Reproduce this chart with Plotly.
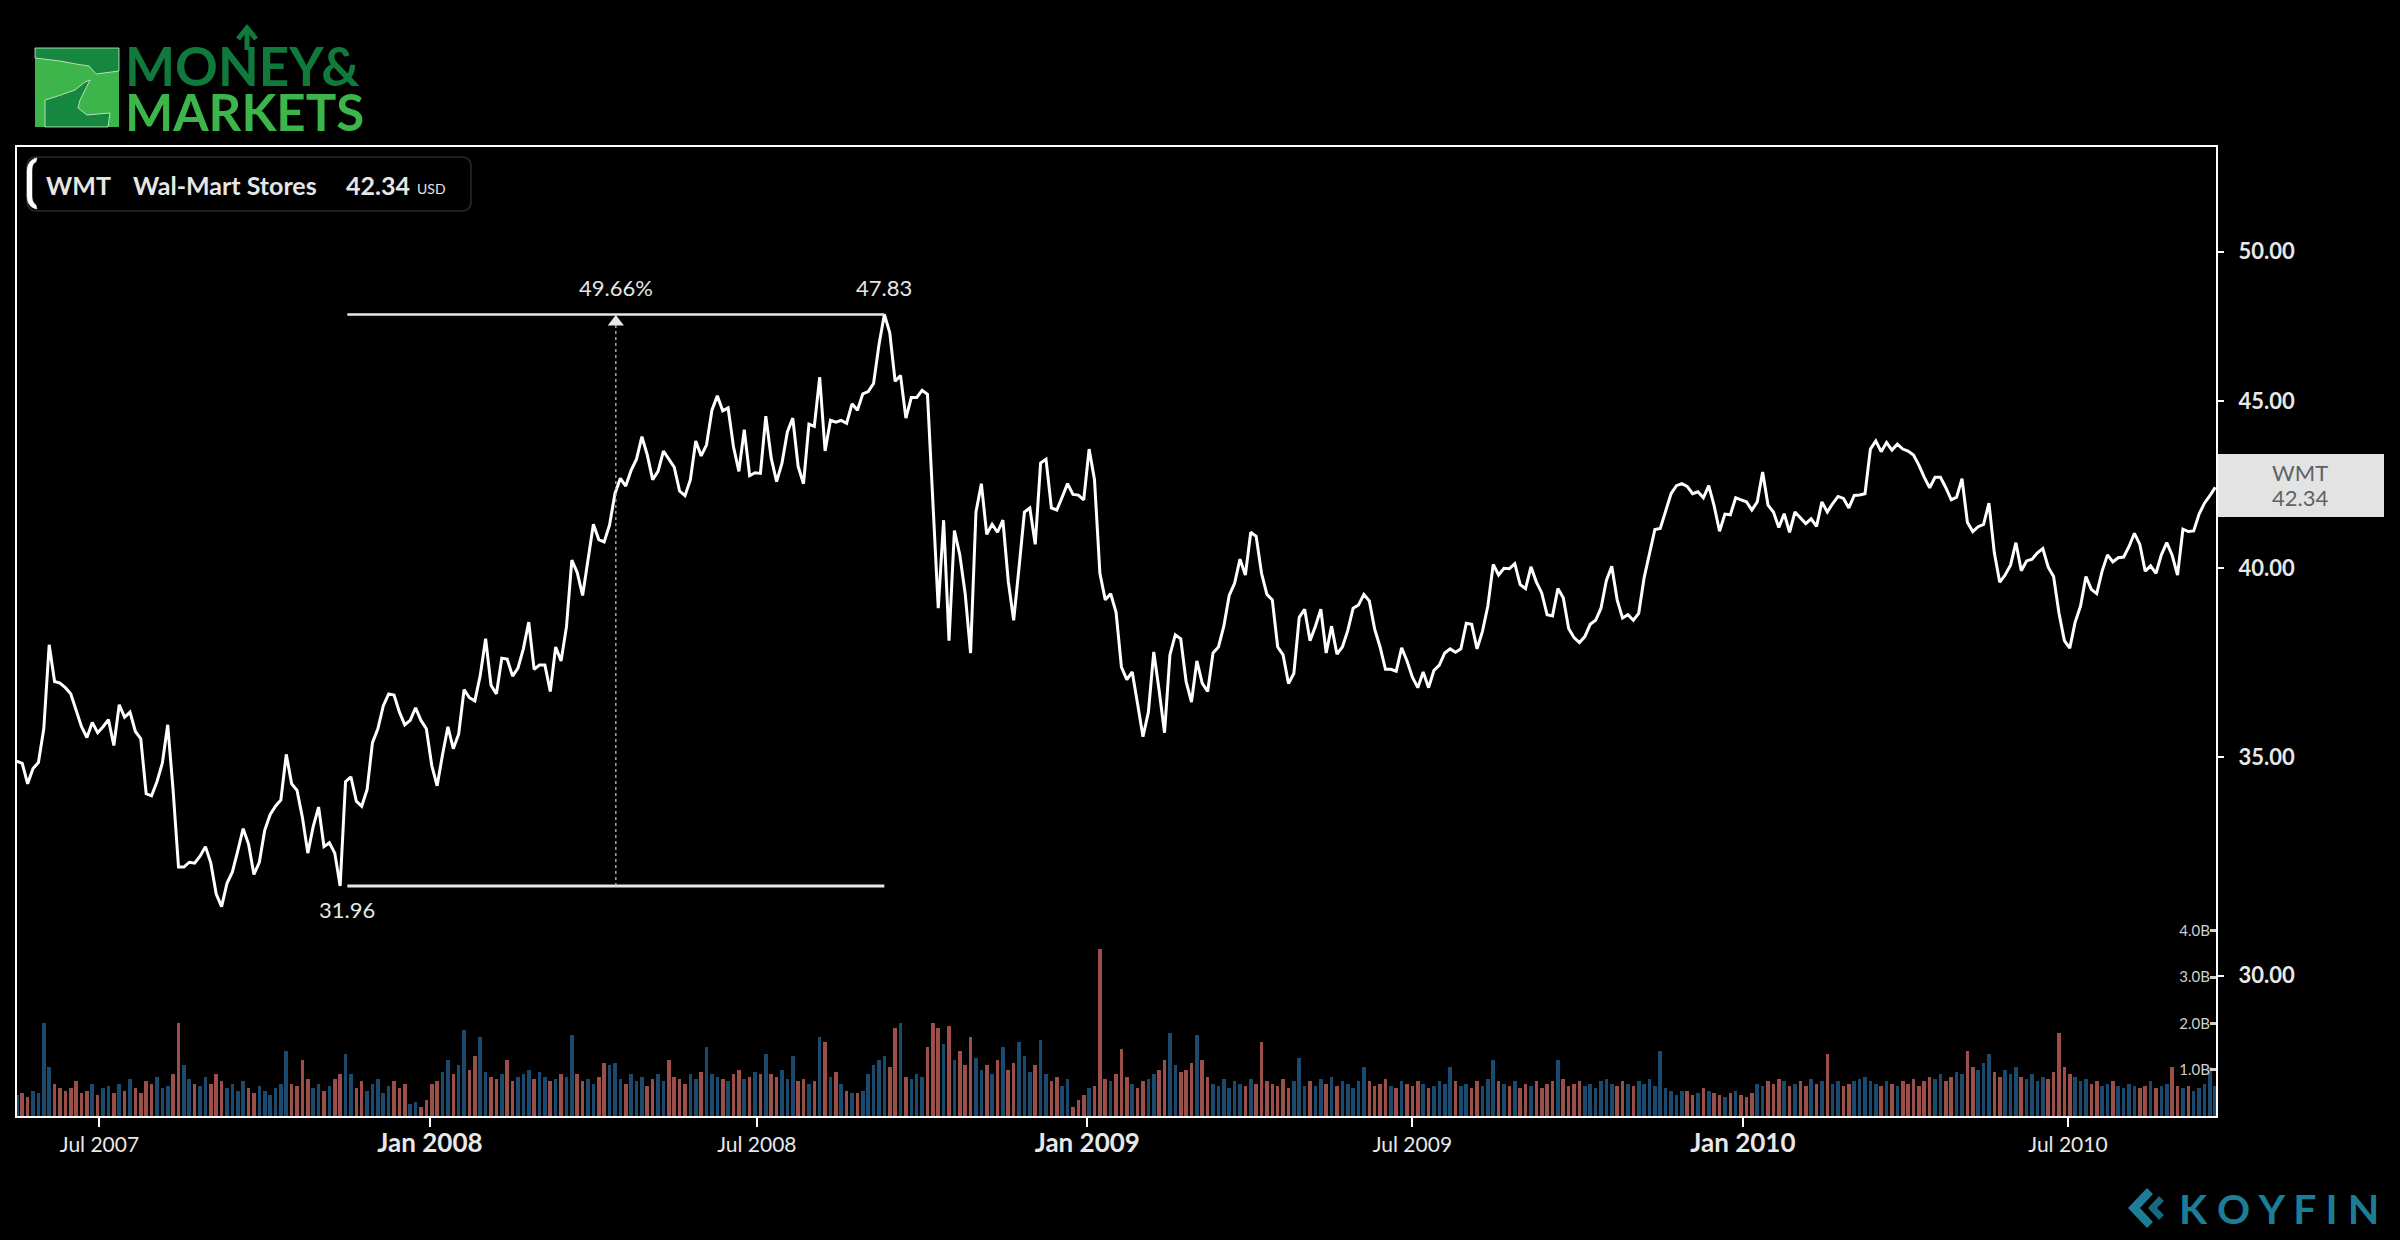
import numpy as np
import pandas as pd
import plotly.graph_objects as go

# ---------------- data ----------------
START_DATE = "2007-05-16"
STEP_DAYS = 3

price = [
    34.90, 34.85, 34.35, 34.72, 34.87, 35.71, 37.89, 36.92, 36.88, 36.76,
    36.60, 36.18, 35.76, 35.49, 35.87, 35.61, 35.76, 35.94, 35.29, 36.32,
    36.00, 36.13, 35.64, 35.46, 34.11, 34.06, 34.40, 34.85, 35.81, 34.19,
    32.39, 32.39, 32.50, 32.48, 32.64, 32.86, 32.48, 31.78, 31.50, 32.02,
    32.28, 32.76, 33.28, 32.92, 32.22, 32.50, 33.24, 33.61, 33.81, 33.96,
    35.07, 34.35, 34.19, 33.54, 32.71, 33.33, 33.79, 32.86, 32.95, 32.71,
    31.96, 34.40, 34.52, 33.93, 33.81, 34.21, 35.36, 35.71, 36.29, 36.60,
    36.57, 36.13, 35.81, 35.92, 36.24, 35.92, 35.71, 34.80, 34.30, 35.06,
    35.76, 35.21, 35.58, 36.71, 36.50, 36.42, 37.08, 38.05, 36.82, 36.60,
    37.53, 37.51, 37.06, 37.27, 37.78, 38.50, 37.24, 37.35, 37.35, 36.66,
    37.83, 37.46, 38.37, 40.22, 39.87, 39.23, 40.20, 41.25, 40.81, 40.74,
    41.23, 42.15, 42.61, 42.38, 42.85, 43.19, 43.88, 43.32, 42.57, 42.82,
    43.44, 43.19, 42.95, 42.23, 42.09, 42.57, 43.75, 43.29, 43.63, 44.71,
    45.17, 44.69, 44.78, 43.57, 42.82, 44.10, 42.69, 42.78, 42.76, 44.52,
    43.22, 42.51, 43.07, 44.03, 44.46, 42.97, 42.45, 44.27, 44.20, 45.76,
    43.44, 44.39, 44.33, 44.39, 44.30, 44.91, 44.71, 45.23, 45.30, 45.56,
    46.82, 47.83, 47.23, 45.63, 45.82, 44.46, 45.11, 45.11, 45.34, 45.21,
    41.73, 38.88, 41.37, 38.00, 41.07, 40.37, 39.28, 37.67, 41.61, 42.45,
    40.96, 41.25, 41.02, 41.37, 39.62, 38.55, 40.02, 41.61, 41.73, 40.67,
    43.07, 43.19, 41.73, 41.67, 42.05, 42.45, 42.13, 42.11, 41.97, 43.50,
    42.57, 39.85, 39.11, 39.28, 38.77, 37.30, 36.97, 37.17, 36.34, 35.51,
    36.13, 37.70, 36.68, 35.61, 37.62, 38.16, 38.05, 36.92, 36.39, 37.46,
    36.87, 36.66, 37.67, 37.83, 38.39, 39.23, 39.57, 40.25, 39.80, 41.02,
    40.90, 39.85, 39.26, 39.11, 37.83, 37.62, 36.87, 37.13, 38.63, 38.85,
    38.00, 38.39, 38.85, 37.67, 38.39, 37.64, 37.83, 38.27, 38.88, 38.97,
    39.26, 39.08, 38.31, 37.83, 37.24, 37.24, 37.19, 37.81, 37.46, 37.03,
    36.76, 37.17, 36.76, 37.21, 37.35, 37.67, 37.78, 37.69, 37.78, 38.47,
    38.44, 37.78, 38.25, 38.94, 40.10, 39.80, 39.99, 39.98, 40.12, 39.53,
    39.42, 40.03, 39.61, 39.30, 38.70, 38.67, 39.42, 39.17, 38.33, 38.08,
    37.95, 38.11, 38.44, 38.55, 38.88, 39.65, 40.05, 39.11, 38.61, 38.70,
    38.55, 38.74, 39.72, 40.41, 41.10, 41.13, 41.63, 42.15, 42.39, 42.45,
    42.37, 42.15, 42.21, 42.03, 42.39, 41.79, 41.05, 41.55, 41.53, 42.03,
    41.97, 41.91, 41.67, 41.91, 42.80, 41.81, 41.61, 41.16, 41.56, 41.02,
    41.61, 41.43, 41.27, 41.41, 41.19, 41.91, 41.61, 41.86, 42.07, 42.01,
    41.73, 42.10, 42.11, 42.15, 43.50, 43.75, 43.42, 43.70, 43.47, 43.65,
    43.50, 43.44, 43.32, 43.01, 42.64, 42.33, 42.64, 42.64, 42.33, 41.97,
    42.05, 42.60, 41.31, 41.04, 41.18, 41.25, 41.87, 40.43, 39.60, 39.80,
    40.08, 40.72, 39.92, 40.20, 40.25, 40.43, 40.55, 40.02, 39.76, 38.74,
    38.00, 37.80, 38.50, 38.94, 39.76, 39.40, 39.28, 39.91, 40.37, 40.17,
    40.29, 40.31, 40.61, 40.99, 40.67, 39.91, 40.06, 39.85, 40.37, 40.72,
    40.36, 39.80, 41.11, 41.04, 41.06, 41.55, 41.87, 42.09, 42.34,
]

volume_b = [
    0.45, 0.50, 0.40, 0.55, 0.50, 2.00, 1.05, 0.70, 0.60, 0.55,
    0.60, 0.75, 0.50, 0.55, 0.70, 0.45, 0.60, 0.65, 0.50, 0.70,
    0.55, 0.80, 0.60, 0.50, 0.75, 0.70, 0.85, 0.60, 0.65, 0.90,
    2.00, 1.10, 0.80, 0.70, 0.65, 0.85, 0.70, 0.90, 0.75, 0.60,
    0.70, 0.55, 0.75, 0.60, 0.50, 0.65, 0.55, 0.45, 0.60, 0.70,
    1.40, 0.70, 0.65, 1.20, 0.80, 0.60, 0.70, 0.55, 0.65, 0.80,
    0.90, 1.35, 0.90, 0.60, 0.75, 0.55, 0.70, 0.80, 0.50, 0.65,
    0.75, 0.60, 0.70, 0.25, 0.30, 0.20, 0.35, 0.70, 0.75, 0.95,
    1.20, 0.90, 1.10, 1.85, 1.00, 1.30, 1.70, 0.95, 0.85, 0.80,
    0.90, 1.20, 0.75, 0.85, 0.90, 1.00, 0.80, 0.95, 0.85, 0.75,
    0.80, 0.90, 0.85, 1.75, 0.90, 0.75, 0.80, 0.70, 0.85, 1.15,
    1.10, 1.15, 0.80, 0.70, 0.90, 0.75, 0.85, 0.65, 0.80, 0.90,
    0.75, 1.20, 0.85, 0.80, 0.70, 0.90, 0.80, 0.95, 1.50, 0.90,
    0.85, 0.80, 0.75, 0.90, 1.00, 0.80, 0.85, 0.95, 0.90, 1.35,
    0.90, 0.85, 1.00, 0.80, 1.30, 0.75, 0.80, 0.70, 0.75, 1.70,
    1.60, 0.85, 0.95, 0.70, 0.55, 0.50, 0.50, 0.55, 0.90, 1.10,
    1.20, 1.30, 1.05, 1.90, 2.00, 0.85, 0.80, 0.90, 0.85, 1.50,
    2.00, 1.90, 1.55, 1.95, 1.20, 1.40, 1.10, 1.70, 1.25, 1.00,
    1.10, 0.90, 1.20, 1.50, 1.00, 1.15, 1.60, 1.30, 0.95, 1.10,
    1.65, 0.90, 0.75, 0.85, 0.65, 0.80, 0.20, 0.35, 0.45, 0.60,
    0.65, 3.60, 0.80, 0.75, 0.90, 1.45, 0.85, 0.70, 0.60, 0.75,
    0.80, 0.90, 1.00, 1.20, 1.80, 1.10, 0.95, 1.00, 1.15, 1.75,
    1.20, 0.85, 0.70, 0.65, 0.80, 0.60, 0.75, 0.70, 0.65, 0.80,
    0.70, 1.60, 0.75, 0.70, 0.65, 0.80, 0.60, 0.75, 1.25, 0.65,
    0.75, 0.65, 0.80, 0.70, 0.85, 0.65, 0.75, 0.70, 0.60, 0.75,
    1.05, 0.75, 0.65, 0.70, 0.80, 0.65, 0.60, 0.75, 0.70, 0.65,
    0.75, 0.70, 0.60, 0.65, 0.75, 0.70, 1.05, 0.75, 0.65, 0.70,
    0.60, 0.75, 0.65, 0.80, 1.20, 0.75, 0.70, 0.65, 0.75, 0.60,
    0.70, 0.65, 0.75, 0.60, 0.70, 0.75, 1.20, 0.80, 0.65, 0.70,
    0.75, 0.65, 0.70, 0.60, 0.75, 0.80, 0.70, 0.65, 0.75, 0.70,
    0.65, 0.75, 0.70, 0.80, 0.65, 1.40, 0.60, 0.55, 0.45, 0.55,
    0.55, 0.45, 0.50, 0.60, 0.55, 0.50, 0.45, 0.40, 0.50, 0.55,
    0.45, 0.40, 0.50, 0.70, 0.65, 0.75, 0.70, 0.80, 0.75, 0.65,
    0.70, 0.75, 0.65, 0.80, 0.70, 0.75, 1.35, 0.70, 0.75, 0.65,
    0.70, 0.75, 0.80, 0.85, 0.75, 0.70, 0.65, 0.75, 0.70, 0.65,
    0.75, 0.70, 0.80, 0.65, 0.75, 0.85, 0.80, 0.90, 0.75, 0.85,
    0.95, 0.90, 1.40, 1.05, 1.00, 1.15, 1.35, 0.95, 0.85, 1.00,
    0.90, 1.05, 0.85, 0.80, 0.90, 0.75, 0.85, 0.80, 0.95, 1.80,
    1.05, 0.90, 0.85, 0.75, 0.80, 0.70, 0.75, 0.65, 0.70, 0.75,
    0.65, 0.60, 0.70, 0.65, 0.60, 0.65, 0.75, 0.60, 0.65, 0.70,
    1.05, 0.65, 0.60, 0.65, 0.55, 0.60, 0.70, 1.05, 0.65,
]

tick_dates = ["2007-07-01", "2008-01-01", "2008-07-01", "2009-01-01",
              "2009-07-01", "2010-01-01", "2010-07-01"]
tick_labels = ["Jul 2007", "Jan 2008", "Jul 2008", "Jan 2009",
               "Jul 2009", "Jan 2010", "Jul 2010"]
price_ticks = [30, 35, 40, 45, 50]
volume_ticks = [1, 2, 3, 4]
volume_tick_labels = ["1.0B", "2.0B", "3.0B", "4.0B"]

ticker = "WMT"
company = "Wal-Mart Stores"
currency = "USD"

low_value = 31.96
high_value = 47.83
measure_start = "2007-11-16"
measure_end = "2008-09-10"

# ---------------- layout geometry ----------------
W, H = 2400, 1240
L, R, T, B = 17, 184, 147, 124
PW, PH = W - L - R, H - T - B
Y_LOG_RANGE = [1.43413, 1.73104]
VOL_RANGE = [0, 20.93]
X_RANGE = ["2007-05-16 02:00", "2010-09-21 10:00"]
PX_PER_LN = PH / ((Y_LOG_RANGE[1] - Y_LOG_RANGE[0]) * np.log(10))


def px(x):
    return (x - L) / PW


def py(y):
    return (H - B - y) / PH


def path(points, close=True):
    s = "M " + " L ".join(f"{px(a):.5f},{py(b):.5f}" for a, b in points)
    return s + (" Z" if close else "")


def rounded_rect(x0, y0, x1, y1, r):
    def P(a, b):
        return f"{px(a):.5f},{py(b):.5f}"
    return (f"M {P(x0 + r, y0)} L {P(x1 - r, y0)} Q {P(x1, y0)} {P(x1, y0 + r)} "
            f"L {P(x1, y1 - r)} Q {P(x1, y1)} {P(x1 - r, y1)} L {P(x0 + r, y1)} "
            f"Q {P(x0, y1)} {P(x0, y1 - r)} L {P(x0, y0 + r)} Q {P(x0, y0)} {P(x0 + r, y0)} Z")


dates = pd.date_range(START_DATE, periods=len(price), freq=f"{STEP_DAYS}D")
RED, BLUE = "#9c4e49", "#1c4a6e"
bar_colors = [BLUE] + [BLUE if price[i] >= price[i - 1] else RED for i in range(1, len(price))]

fig = go.Figure()

fig.add_trace(go.Bar(
    x=dates, y=volume_b, yaxis="y2", marker=dict(color=bar_colors, line=dict(width=0)),
    width=2.0 * 24 * 3600 * 1000, hoverinfo="skip", showlegend=False,
))

fig.add_trace(go.Scatter(
    x=dates, y=price, mode="lines", line=dict(color="#ffffff", width=3),
    hoverinfo="skip", showlegend=False,
))

# measurement tool
ms, me = pd.Timestamp(measure_start), pd.Timestamp(measure_end)
mid = ms + (me - ms) / 2
line_col = "#e8e8e8"
fig.add_trace(go.Scatter(x=[ms, me], y=[high_value, high_value], mode="lines",
                         line=dict(color=line_col, width=2.5), hoverinfo="skip", showlegend=False))
fig.add_trace(go.Scatter(x=[ms, me], y=[low_value, low_value], mode="lines",
                         line=dict(color=line_col, width=3), hoverinfo="skip", showlegend=False))
tri_y = high_value * np.exp(-7.5 / PX_PER_LN)
fig.add_trace(go.Scatter(x=[mid, mid], y=[low_value, tri_y], mode="lines",
                         line=dict(color="#bdbdbd", width=1.3, dash="dot"), hoverinfo="skip", showlegend=False))
fig.add_trace(go.Scatter(x=[mid], y=[tri_y], mode="markers",
                         marker=dict(symbol="triangle-up", size=14, color="#e8e8e8"),
                         hoverinfo="skip", showlegend=False))

pct = (high_value / low_value - 1) * 100
font_fam = "Lato, 'Open Sans', sans-serif"
ann = []
ann.append(dict(x=mid, y=np.log10(high_value), xref="x", yref="y", text=f"{pct:.2f}%",
                showarrow=False, yanchor="middle", yshift=27,
                font=dict(size=22, color="#e6e6e6", family=font_fam)))
ann.append(dict(x=me, y=np.log10(high_value), xref="x", yref="y", text=f"{high_value:.2f}",
                showarrow=False, yanchor="middle", yshift=27,
                font=dict(size=22, color="#e6e6e6", family=font_fam)))
ann.append(dict(x=ms, y=np.log10(low_value), xref="x", yref="y", text=f"{low_value:.2f}",
                showarrow=False, yanchor="middle", yshift=-24,
                font=dict(size=22, color="#e6e6e6", family=font_fam)))

# legend box top-left
last_price = price[-1]
TXT = "#e6e6e6"
ann.append(dict(x=px(44), y=py(185), xref="paper", yref="paper", text=f"<b>{ticker}</b>",
                showarrow=False, xanchor="left", yanchor="middle", font=dict(size=25, color=TXT, family=font_fam)))
ann.append(dict(x=px(131), y=py(185), xref="paper", yref="paper", text=f"<b>{company}</b>",
                showarrow=False, xanchor="left", yanchor="middle", font=dict(size=25, color=TXT, family=font_fam)))
ann.append(dict(x=px(344), y=py(185), xref="paper", yref="paper", text=f"<b>{last_price:.2f}</b>",
                showarrow=False, xanchor="left", yanchor="middle", font=dict(size=25, color=TXT, family=font_fam)))
ann.append(dict(x=px(415), y=py(189), xref="paper", yref="paper", text=currency,
                showarrow=False, xanchor="left", yanchor="middle", font=dict(size=14, color=TXT, family=font_fam)))

# last price tag on the right
ann.append(dict(x=px(2300), y=py(473), xref="paper", yref="paper", text=ticker,
                showarrow=False, xanchor="center", yanchor="middle", font=dict(size=22, color="#5b6366", family=font_fam)))
ann.append(dict(x=px(2300), y=py(498), xref="paper", yref="paper", text=f"{last_price:.2f}",
                showarrow=False, xanchor="center", yanchor="middle", font=dict(size=22, color="#5b6366", family=font_fam)))

# Money & Markets logo text
ann.append(dict(x=px(123), y=py(66), xref="paper", yref="paper", text="<b>MONEY&amp;</b>",
                showarrow=False, xanchor="left", yanchor="middle", font=dict(size=53, color="#107a3c", family=font_fam)))
ann.append(dict(x=px(123), y=py(111), xref="paper", yref="paper", text="<b>MARKETS</b>",
                showarrow=False, xanchor="left", yanchor="middle", font=dict(size=51, color="#3cb54a", family=font_fam)))

# Koyfin logo text
ann.append(dict(x=px(2177), y=py(1208), xref="paper", yref="paper", text="<b>K O Y F I N</b>",
                showarrow=False, xanchor="left", yanchor="middle", font=dict(size=41, color="#1d7c96", family=font_fam)))

shapes = []
# legend box
shapes.append(dict(type="path", xref="paper", yref="paper", path=rounded_rect(27, 157, 471, 211, 10),
                   line=dict(color="#2a2a2a", width=1.5), fillcolor="rgba(0,0,0,0)"))
bracket = (f"M {px(37):.5f},{py(158):.5f} C {px(30):.5f},{py(159):.5f} {px(27):.5f},{py(165):.5f} {px(27):.5f},{py(172):.5f} "
           f"L {px(27):.5f},{py(195):.5f} C {px(27):.5f},{py(203):.5f} {px(30):.5f},{py(208):.5f} {px(37):.5f},{py(209):.5f} "
           f"L {px(36):.5f},{py(205):.5f} C {px(33):.5f},{py(203):.5f} {px(32):.5f},{py(200):.5f} {px(32):.5f},{py(195):.5f} "
           f"L {px(32):.5f},{py(172):.5f} C {px(32):.5f},{py(166):.5f} {px(33):.5f},{py(163):.5f} {px(36):.5f},{py(162):.5f} Z")
shapes.append(dict(type="path", xref="paper", yref="paper", path=bracket,
                   line=dict(color="#ffffff", width=0.5), fillcolor="#ffffff"))
# last price tag box
shapes.append(dict(type="rect", xref="paper", yref="paper", x0=px(2217), x1=px(2384), y0=py(517), y1=py(454),
                   line=dict(width=0), fillcolor="#e3e3e3", layer="below"))
# Money & Markets square
shapes.append(dict(type="rect", xref="paper", yref="paper", x0=px(35), x1=px(119), y0=py(127), y1=py(48),
                   line=dict(width=0), fillcolor="#3db54a"))
shapes.append(dict(type="path", xref="paper", yref="paper",
                   path=path([(35, 48), (119, 48), (119, 71), (96, 74), (89, 66), (76, 64), (60, 61), (35, 58)]),
                   line=dict(color="#d8f0d8", width=0.8), fillcolor="#15873f"))
shapes.append(dict(type="path", xref="paper", yref="paper",
                   path=path([(45, 127), (45, 100), (55, 97), (75, 90), (85, 82), (90, 80), (80, 100), (78, 108),
                              (87, 115), (110, 113), (108, 127)]),
                   line=dict(color="#d8f0d8", width=0.8), fillcolor="#15873f"))
# arrow on the N
shapes.append(dict(type="line", xref="paper", yref="paper", x0=px(247), x1=px(247), y0=py(50), y1=py(30),
                   line=dict(color="#107a3c", width=5)))
shapes.append(dict(type="path", xref="paper", yref="paper",
                   path=path([(238, 39), (247, 28), (256, 39)], close=False),
                   line=dict(color="#107a3c", width=5), fillcolor="rgba(0,0,0,0)"))
# Koyfin icon
shapes.append(dict(type="path", xref="paper", yref="paper",
                   path=path([(2147, 1188), (2128, 1208), (2147, 1228), (2153, 1222), (2140, 1208), (2153, 1194)]),
                   line=dict(width=0), fillcolor="#1d7c96"))
shapes.append(dict(type="path", xref="paper", yref="paper",
                   path=path([(2159, 1196), (2148, 1208), (2159, 1220), (2164, 1215), (2157, 1208), (2164, 1201)]),
                   line=dict(width=0), fillcolor="#176780"))

x_text = []
for lab in tick_labels:
    if lab.startswith("Jan"):
        x_text.append(f"<b><span style='font-size:26px'>{lab}</span></b>")
    else:
        x_text.append(f"<span style='font-size:21px'>{lab}</span>")

fig.update_layout(
    width=W, height=H,
    margin=dict(l=L, r=R, t=T, b=B, pad=0),
    paper_bgcolor="#000000", plot_bgcolor="#000000",
    font=dict(family=font_fam, color="#e6e6e6"),
    showlegend=False,
    bargap=0,
    xaxis=dict(
        type="date", range=X_RANGE, tickmode="array", tickvals=tick_dates, ticktext=x_text,
        ticks="outside", ticklen=9, tickwidth=2, tickcolor="#ffffff",
        showline=True, linecolor="#ffffff", linewidth=2, mirror=True,
        showgrid=False, zeroline=False, tickfont=dict(size=21, color="#e8e8e8", family=font_fam),
    ),
    yaxis=dict(
        type="log", range=Y_LOG_RANGE, side="right", tickmode="array", tickvals=price_ticks,
        ticktext=[f"{v:.2f}" for v in price_ticks],
        ticks="outside", ticklen=6, tickwidth=2, tickcolor="#ffffff",
        showline=True, linecolor="#ffffff", linewidth=2, mirror=True,
        showgrid=False, zeroline=False, ticklabelstandoff=10,
        tickfont=dict(size=22, color="#e8e8e8", family=font_fam, weight="bold"),
    ),
    yaxis2=dict(
        overlaying="y", side="right", range=VOL_RANGE, tickmode="array", tickvals=volume_ticks,
        ticktext=volume_tick_labels, ticks="inside", ticklen=6, tickwidth=3, tickcolor="#cfcfcf",
        ticklabelposition="inside", showline=False, showgrid=False, zeroline=False,
        tickfont=dict(size=15, color="#cfcfcf", family=font_fam),
    ),
    annotations=ann,
    shapes=shapes,
)

fig.write_html("out.html", config={"displayModeBar": False})
